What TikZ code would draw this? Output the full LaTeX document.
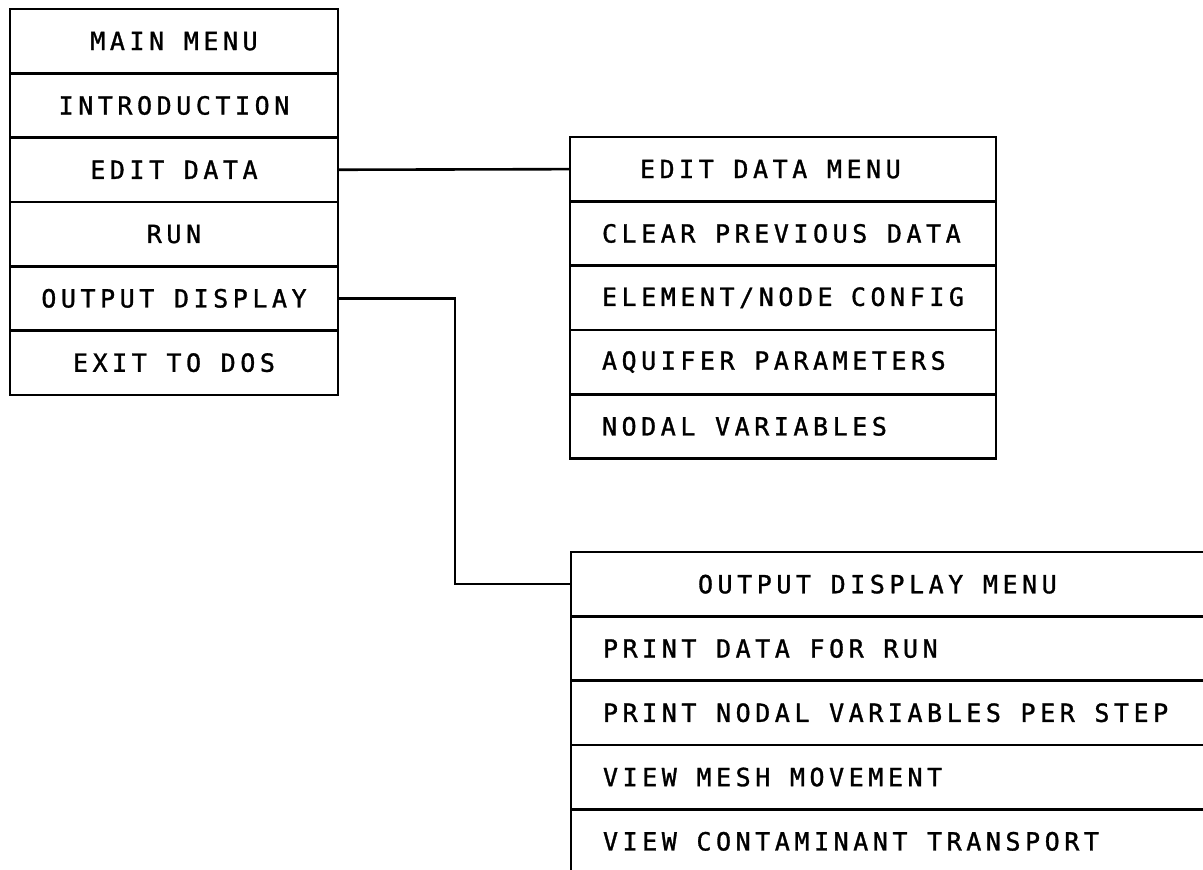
\documentclass[tikz,border=0pt]{standalone}
\usepackage{fontspec}
\usepackage{tikz}
\usetikzlibrary{positioning}
\newfontfamily\plotfont{DejaVu Sans Mono}[LetterSpace=18.2,FakeBold=1.2]

\tikzset{
  menurow/.style={draw,line width=2.6pt,outer sep=0pt,inner ysep=0pt,
    minimum height=64.3pt,font=\plotfont\fontsize{25}{30}\selectfont},
  mainrow/.style={menurow,minimum width=328pt},
  leftrow/.style 2 args={menurow,inner xsep=#1,
    execute at begin node={\hbox to #2\bgroup},
    execute at end node={\hfil\egroup}},
  edittitle/.style={leftrow={70pt}{286pt}},
  editrow/.style={leftrow={32pt}{362pt}},
  outtitle/.style={leftrow={127pt}{430pt}},
  outrow/.style={leftrow={32pt}{620pt}},
  link/.style={line width=2.6pt}
}

\begin{document}
\begin{tikzpicture}[x=1pt,y=-1pt]
  \clip (0,0) rectangle (1203,870);
  \fill[white] (0,0) rectangle (1203,870);
  % main menu
  \node[mainrow,anchor=north west] (main) at (10,9) {MAIN MENU};
  \node[mainrow,below=0pt of main] (intro) {INTRODUCTION};
  \node[mainrow,below=0pt of intro] (editdata) {EDIT DATA};
  \node[mainrow,below=0pt of editdata] (run) {RUN};
  \node[mainrow,below=0pt of run] (outdisp) {OUTPUT DISPLAY};
  \node[mainrow,below=0pt of outdisp] (exitdos) {EXIT TO DOS};
  % edit data menu
  \node[edittitle,anchor=north west] (editmenu) at (570,137) {EDIT DATA MENU};
  \node[editrow,below=0pt of editmenu] (clear) {CLEAR PREVIOUS DATA};
  \node[editrow,below=0pt of clear] (config) {ELEMENT/NODE CONFIG};
  \node[editrow,below=0pt of config] (aquifer) {AQUIFER PARAMETERS};
  \node[editrow,below=0pt of aquifer] (nodalvar) {NODAL VARIABLES};
  % output display menu
  \node[outtitle,anchor=north west] (outmenu) at (571,552) {OUTPUT DISPLAY MENU};
  \node[outrow,below=0pt of outmenu] (printdata) {PRINT DATA FOR RUN};
  \node[outrow,below=0pt of printdata] (printnodal) {PRINT NODAL VARIABLES PER STEP};
  \node[outrow,below=0pt of printnodal] (viewmesh) {VIEW MESH MOVEMENT};
  \node[outrow,below=0pt of viewmesh] (viewcont) {VIEW CONTAMINANT TRANSPORT};
  % links
  \draw[link] (editdata.east) -- (editmenu.west);
  \draw[link] (outdisp.east) -- ++(117,0) |- (outmenu.west);
\end{tikzpicture}
\end{document}
